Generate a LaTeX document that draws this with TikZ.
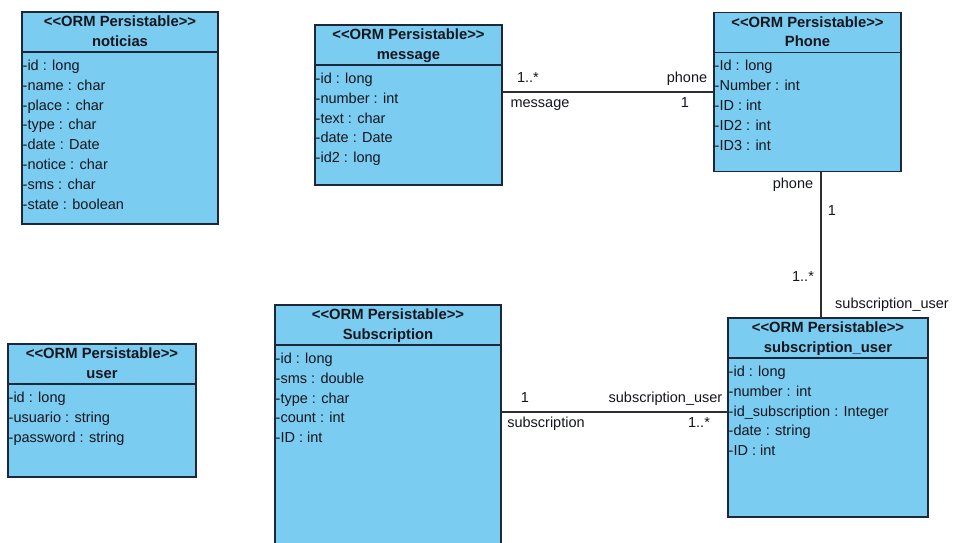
\documentclass[tikz,border=0pt]{standalone}
\usepackage{fontspec}
\setmainfont{Liberation Sans}
\definecolor{classfill}{RGB}{122,204,240}
\definecolor{classline}{RGB}{28,40,58}
\definecolor{textdark}{RGB}{20,22,30}
\definecolor{assocline}{RGB}{45,45,50}

\tikzset{
  classbox/.style={draw=classline, line width=1.7pt, fill=classfill,
    anchor=north west, inner sep=0pt, outer sep=0pt},
  sepline/.style={draw=classline, line width=1.2pt},
  stereo/.style={font=\fontsize{14.8}{16}\selectfont\bfseries, text=textdark,
    inner sep=0pt, text height=10.5pt, text depth=3pt},
  classname/.style={stereo},
  attr/.style={font=\fontsize{14.5}{16}\selectfont, text=textdark, anchor=west,
    inner sep=0pt, text height=10.5pt, text depth=3pt},
  role/.style={attr, anchor=center},
  assoc/.style={draw=assocline, line width=1.3pt},
}

% class box: #1 name, #2 left, #3 top, #4 width, #5 height, #6 title, #7 attributes
\newcommand{\ormclass}[7]{%
  \node[classbox, minimum width=#4, minimum height=#5] (#1) at (#2,-#3) {};
  \draw[sepline] ([yshift=-40]#1.north west) -- ([yshift=-40]#1.north east);
  \node[stereo] (#1-st) at ([yshift=-11]#1.north) {{<}{<}ORM Persistable{>}{>}};
  \node[classname] (#1-nm) at ([yshift=-30.5]#1.north) {#6};
  \foreach \a [count=\i] in {#7}
    \node[attr] (#1-a\i) at ([xshift=0.5, yshift={-54.5-19.9*(\i-1)}]#1.north west) {\a};
}

\begin{document}
\begin{tikzpicture}[x=1pt, y=1pt]
  \clip (0,0) rectangle (953,-543);
  \fill[white] (0,0) rectangle (953,-543);

  \ormclass{noticias}{22}{12}{196}{212}{noticias}%
    {-id : long,-name : char,-place : char,-type : char,-date : Date,-notice : char,-sms : char,-state : boolean}
  \ormclass{message}{315}{25}{187}{160}{message}%
    {-id : long,-number : int,-text : char,-date : Date,-id2 : long}
  \ormclass{phone}{714}{12.5}{187}{159}{Phone}%
    {-Id : long,-Number : int,-ID : int,-ID2 : int,-ID3 : int}
  \ormclass{user}{8}{344}{188}{133}{user}%
    {-id : long,-usuario : string,-password : string}
  \ormclass{subscription}{275}{305}{226}{262}{Subscription}%
    {-id : long,-sms : double,-type : char,-count : int,-ID : int}
  \ormclass{subuser}{728}{318}{200}{199}{subscription\_user}%
    {-id : long,-number : int,-id\_subscription : Integer,-date : string,-ID : int}

  % message -- Phone
  \draw[assoc] (message.east |- phone.west) -- (phone.west);
  \node[role] (mp1) at (528,-79) {1..*};
  \node[role] (mp2) at (687,-79) {phone};
  \node[role] (mp3) at (540,-104) {message};
  \node[role] (mp4) at (685,-104) {1};

  % Phone -- subscription_user
  \coordinate (pdown) at ([xshift=13.5]phone.south);
  \draw[assoc] (pdown) -- (pdown |- subuser.north);
  \node[role] (ps1) at (793,-185) {phone};
  \node[role] (ps2) at (832,-212) {1};
  \node[role] (ps3) at (803,-278) {1..*};
  \node[role] (ps4) at (892,-305) {subscription\_user};

  % Subscription -- subscription_user
  \coordinate (sright) at ([yshift=5.5]subuser.west);
  \draw[assoc] (subscription.east |- sright) -- (sright);
  \node[role] (ss1) at (525,-399) {1};
  \node[role] (ss2) at (665.5,-399) {subscription\_user};
  \node[role] (ss3) at (546,-424) {subscription};
  \node[role] (ss4) at (699,-424) {1..*};
\end{tikzpicture}
\end{document}
